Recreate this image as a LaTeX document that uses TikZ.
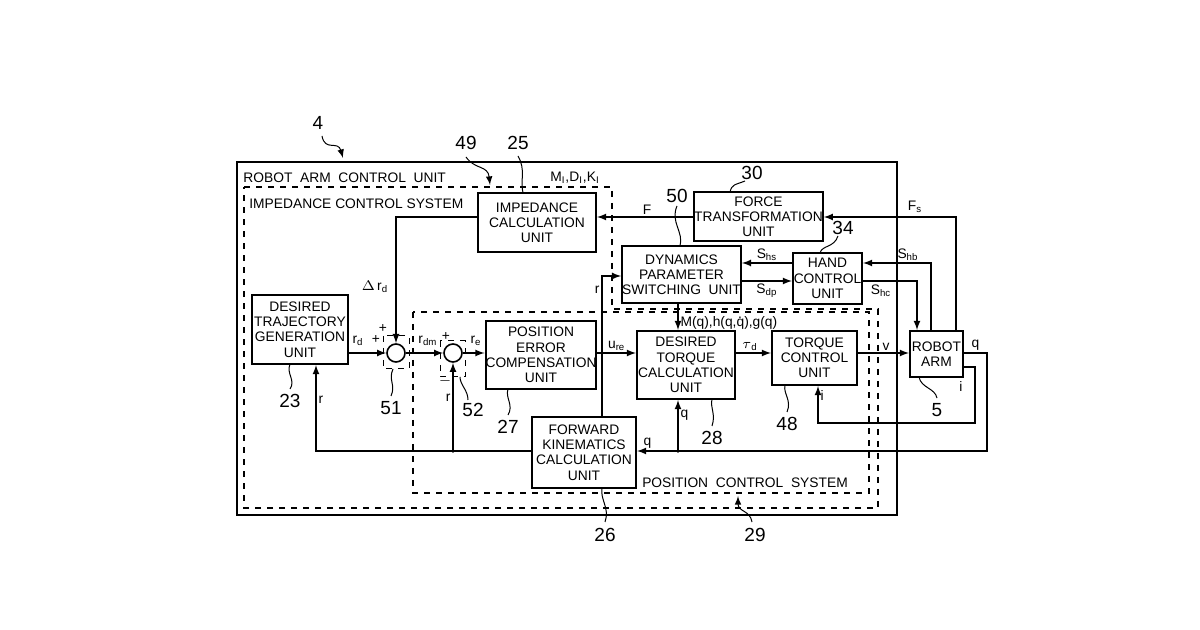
\documentclass[tikz,border=0pt]{standalone}
\usepackage{fontspec}
\setmainfont{Liberation Sans}
\usetikzlibrary{calc}
\newcommand{\qdot}{\makebox[0pt][l]{\hspace{0.12em}\raisebox{0.55em}{.}}q}
\tikzset{
  blk/.style={draw, line width=1pt, align=center, inner sep=0pt},
  sys/.style={draw, dashed, line width=0.6pt},
  sig/.style={line width=0.6pt, ->},
  lead/.style={line width=0.5pt},
  lbl/.style={inner sep=1pt},
  num/.style={inner sep=0pt, font=\fontsize{9.5}{10}\selectfont},
}
\begin{document}
\begin{tikzpicture}[>=latex, x=0.5pt, y=-0.5pt, font=\fontsize{6.9}{7.6}\selectfont]
\useasboundingbox (0,0) rectangle (1200,630);

% frames
\draw[line width=1pt] (237,162) rectangle (897,515);
\draw[sys] (244,187) -- (612,187) -- (612,309) -- (878,309) -- (878,508) -- (244,508) -- cycle;
\draw[sys] (413,312) rectangle (869,493);
\node[lbl, anchor=west] at (241,178) {ROBOT\ \ ARM\ \ CONTROL\ \ UNIT};
\node[lbl, anchor=west] at (247,204) {IMPEDANCE\ CONTROL\ SYSTEM};
\node[lbl] at (575,178) {M\textsubscript{I},D\textsubscript{I},K\textsubscript{I}};
\node[lbl] at (745,483) {POSITION\ \ CONTROL\ \ SYSTEM};

% blocks
\node[blk, minimum width=59pt, minimum height=29.5pt] (imp) at (537,222.5) {IMPEDANCE\\CALCULATION\\UNIT};
\node[blk, minimum width=63.5pt, minimum height=24.5pt] (force) at (758.5,216.5) {FORCE\\TRANSFORMATION\\UNIT};
\node[blk, minimum width=58.5pt, minimum height=28.5pt] (dyn) at (681.5,274.5) {DYNAMICS\\PARAMETER\\SWITCHING\ \ UNIT};
\node[blk, minimum width=34.5pt, minimum height=25.5pt] (hand) at (827.5,278.5) {HAND\\CONTROL\\UNIT};
\node[blk, minimum width=49pt, minimum height=34pt] (dtq) at (686,365) {DESIRED\\TORQUE\\CALCULATION\\UNIT};
\node[blk, minimum width=42.5pt, minimum height=27pt] (tqc) at (814.5,358) {TORQUE\\CONTROL\\UNIT};
\node[blk, minimum width=26.5pt, minimum height=23pt] (arm) at (936.5,354) {ROBOT\\ARM};
\node[blk, minimum width=48pt, minimum height=34.5pt] (traj) at (300,329.5) {DESIRED\\TRAJECTORY\\GENERATION\\UNIT};
\node[blk, minimum width=55pt, minimum height=34pt] (perr) at (541,355) {POSITION\\ERROR\\COMPENSATION\\UNIT};
\node[blk, minimum width=52pt, minimum height=35.5pt] (fk) at (584,452.5) {FORWARD\\KINEMATICS\\CALCULATION\\UNIT};

% summing points
\node[draw, circle, line width=0.8pt, minimum size=9pt, inner sep=0pt] (s1) at (396,353) {};
\node[draw, circle, line width=0.8pt, minimum size=9pt, inner sep=0pt] (s2) at (453,353) {};
\draw[sys, line width=0.5pt] (383,336) rectangle (409,369);
\draw[sys, line width=0.5pt] (440,341) rectangle (465,377);
\node[lbl] at (383,329) {+};
\node[lbl] at (376,340) {+};
\node[lbl] at (446,337) {+};
\node[lbl] at (445,381) {$-$};

% helper points
\coordinate (qr) at (987,353);
\coordinate (qb) at (987,451);
\coordinate (qj) at (678,451);
\coordinate (ir) at (975,367);
\coordinate (ib) at (818,423);
\coordinate (rj) at (453,451);
\coordinate (rl) at (316,451);
\coordinate (ru) at (602,276);

% signals
\draw[sig] (traj.east |- s1) -- (s1);
\node[lbl] at (358,341) {r\textsubscript{d}};
\draw[sig] (imp.west |- 0,217) -| (s1.north);
\node[lbl] at (375,287) {$\Delta$\,r\textsubscript{d}};
\draw[sig] (s1) -- (s2);
\node[lbl] at (428,341) {r\textsubscript{dm}};
\draw[sig] (s2) -- (perr.west |- s2);
\node[lbl] at (476,341) {r\textsubscript{e}};
\draw[sig] (perr.east |- 0,353) -- node[lbl, above] {u\textsubscript{re}} (dtq.west |- 0,353);
\draw[sig] (dtq.east |- 0,353) -- node[lbl, above, pos=0.4] {$\tau$\textsubscript{d}} (tqc.west |- 0,353);
\draw[sig] (tqc.east |- 0,353) -- node[lbl, above, pos=0.55] {v} (arm.west |- 0,353);
\draw[sig] (dyn.south -| 678,0) -- node[lbl, right, pos=0.72] {M(q),h(q,\qdot),g(q)} (dtq.north -| 678,0);
\draw[sig] (arm.north -| 956,0) |- (force.east |- 0,217);
\node[lbl] at (915,207) {F\textsubscript{s}};
\draw[sig] (force.west |- 0,217) -- node[lbl, above, pos=0.48] {F} (imp.east |- 0,217);
\draw[sig] (arm.north -| 931,0) |- (hand.east |- 0,263);
\node[lbl] at (908,255) {S\textsubscript{hb}};
\draw[sig] (hand.east |- 0,281) -| (arm.north -| 917,0);
\node[lbl] at (881,291) {S\textsubscript{hc}};
\draw[sig] (hand.west |- 0,263) -- node[lbl, above] {S\textsubscript{hs}} (dyn.east |- 0,263);
\draw[sig] (dyn.east |- 0,281) -- node[lbl, below] {S\textsubscript{dp}} (hand.west |- 0,281);
\draw[sig] (arm.east |- qr) -- node[lbl, above, pos=0.5] {q} (qr) -- (qb) -- node[lbl, above, pos=0.97] {q} (fk.east |- qb);
\draw[sig] (qj) -- node[lbl, right, pos=0.7] {q} (dtq.south -| qj);
\fill (qj) circle (1.8);
\draw[sig] (arm.east |- ir) -- (ir) |- (ib) -- node[lbl, right, pos=0.75] {i} (tqc.south -| ib);
\node[lbl] at (961,387) {i};
\draw[sig] (fk.west |- rj) -- (rl) -- node[lbl, right, pos=0.6] {r} (traj.south -| rl);
\draw[sig] (rj) -- node[lbl, left, pos=0.6] {r} (s2.south);
\fill (rj) circle (1.8);
\draw[sig] (fk.north -| ru) -- node[lbl, left, pos=0.9] {r} (ru) -- (dyn.west |- ru);

% reference numerals
\node[num] (n4) at (318,123) {4};
\draw[lead, ->] (322,136) .. controls (325,152) and (338,140) .. (343,158);
\node[num] (n49) at (466,143) {49};
\draw[lead, ->] (466,157) .. controls (475,170) and (488,165) .. (490,185);
\node[num] (n25) at (518,143) {25};
\draw[lead] (518,156) .. controls (526,170) and (520,180) .. (523,193);
\node[num] (n30) at (752,173) {30};
\draw[lead] (745,181) .. controls (735,185) and (732,184) .. (730,192);
\node[num] (n50) at (677,196) {50};
\draw[lead] (677,206) .. controls (670,222) and (684,232) .. (680,246);
\node[num] (n34) at (843,228) {34};
\draw[lead] (838,236) .. controls (834,248) and (822,245) .. (820,253);
\node[num] (n23) at (290,401) {23};
\draw[lead] (290,389) .. controls (296,380) and (286,374) .. (290,364);
\node[num] (n51) at (391,408) {51};
\draw[lead] (391,396) .. controls (396,385) and (388,380) .. (393,369);
\node[num] (n52) at (473,410) {52};
\draw[lead] (468,400) .. controls (468,390) and (460,385) .. (460,377);
\node[num] (n27) at (508,427) {27};
\draw[lead] (508,415) .. controls (514,405) and (505,398) .. (508,389);
\node[num] (n28) at (712,438) {28};
\draw[lead] (712,426) .. controls (716,414) and (710,408) .. (712,399);
\node[num] (n48) at (787,424) {48};
\draw[lead] (787,412) .. controls (792,400) and (783,394) .. (785,385);
\node[num] (n5) at (937,410) {5};
\draw[lead] (937,398) .. controls (935,388) and (921,388) .. (919,377);
\node[num] (n26) at (605,535) {26};
\draw[lead] (605,522) .. controls (610,508) and (600,500) .. (602,488);
\node[num] (n29) at (755,535) {29};
\draw[lead, ->] (752,522) .. controls (750,510) and (738,512) .. (738,496);
\end{tikzpicture}
\end{document}
